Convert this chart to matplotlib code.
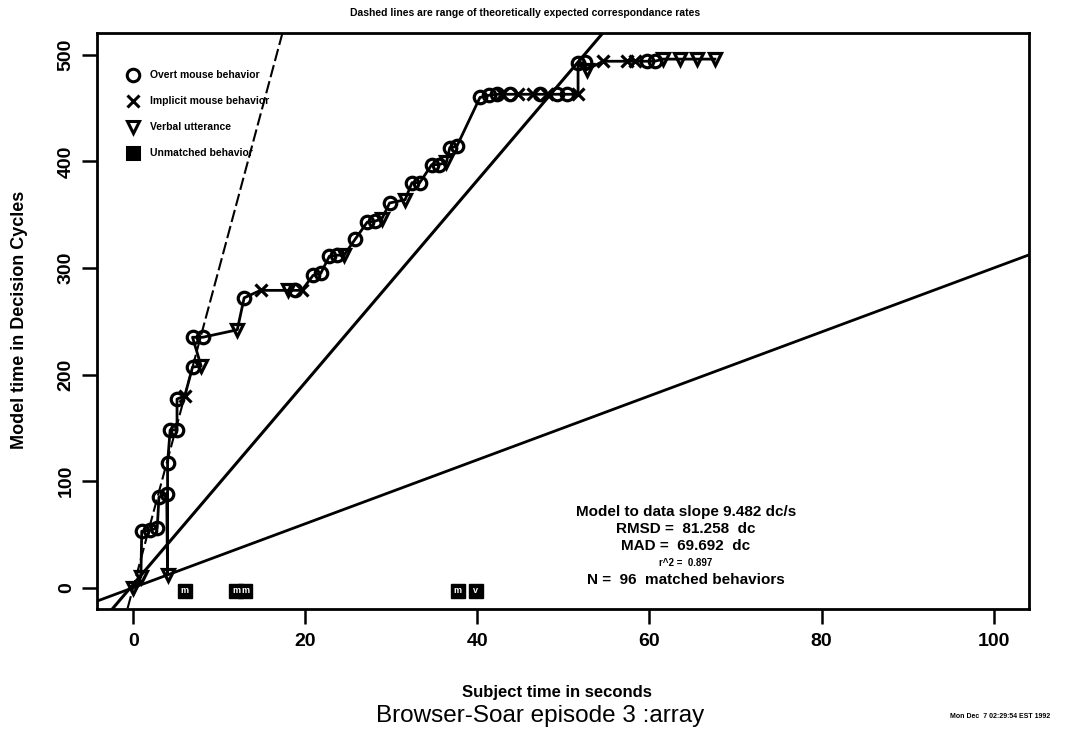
import numpy as np
import matplotlib
matplotlib.use("Agg")
import matplotlib.pyplot as plt

plt.rcParams['font.family'] = ['Liberation Sans', 'DejaVu Sans']

# -------------------------
# Data
# -------------------------
# matched behaviors in plotted order: subject time (s), model time (dc), kind
subj_time = [0.0, 0.9, 1.0, 2.0, 2.8, 3.0, 3.9, 4.0, 4.0, 4.3, 5.1, 5.1, 6.0,
             6.9, 7.9, 6.9, 8.1, 12.1, 12.9, 14.8, 18.0, 18.8, 19.6, 20.9,
             21.8, 22.8, 23.7, 24.5, 25.8, 27.2, 28.1, 28.9, 29.8, 31.6,
             32.4, 33.3, 34.7, 35.5, 36.4, 36.8, 37.6, 40.3, 41.3, 42.3,
             42.9, 43.8, 44.7, 46.5, 47.3, 48.1, 49.2, 50.4, 51.7, 51.7,
             52.5, 52.7, 54.6, 57.4, 58.3, 59.7, 60.6, 61.6, 63.5, 65.5, 67.6]
model_time = [0, 10, 53, 54, 56, 85, 88, 12, 117, 148, 148, 177, 180,
              207, 208, 235, 235, 242, 272, 279, 279, 279, 279, 293,
              295, 311, 312, 312, 327, 343, 344, 346, 361, 364,
              380, 380, 397, 397, 399, 413, 414, 460, 462, 463,
              463, 463, 463, 463, 463, 463, 463, 463, 463, 492,
              493, 486, 494, 494, 494, 494, 494, 496, 496, 496, 496]
kind = ['v', 'v', 'o', 'o', 'o', 'o', 'o', 'v', 'o', 'o', 'o', 'o', 'x',
        'o', 'v', 'o', 'o', 'v', 'o', 'x', 'v', 'o', 'x', 'o',
        'o', 'o', 'o', 'v', 'o', 'o', 'o', 'v', 'o', 'v',
        'o', 'o', 'o', 'o', 'v', 'o', 'o', 'o', 'o', 'o',
        'x', 'o', 'x', 'x', 'o', 'x', 'o', 'o', 'x', 'o',
        'o', 'v', 'x', 'x', 'x', 'o', 'o', 'v', 'v', 'v', 'v']

# unmatched behaviors
unmatched_x = [6.0, 12.0, 13.0, 37.7, 39.8]
unmatched_y = [-3, -3, -3, -3, -3]
unmatched_lbl = ['m', 'm', 'm', 'm', 'v']

fit_slope = 9.482
fit_icpt = 3.0
theory_lo = 3.0
theory_hi = 30.0

stats_lines = ["Model to data slope 9.482 dc/s",
               "RMSD =  81.258  dc",
               "MAD =  69.692  dc",
               "r^2 =  0.897",
               "N =  96  matched behaviors"]

# -------------------------
# Plot
# -------------------------
fig = plt.figure(figsize=(10.7, 7.36), dpi=100)
ax = fig.add_axes([97 / 1070, 1 - 609 / 736, 932 / 1070, 576 / 736])
ax.set_xlim(-4.2, 104.1)
ax.set_ylim(-20, 520.5)

xx = np.array([-10, 110])
ax.plot(xx, fit_slope * xx + fit_icpt, color='black', lw=2.2)
ax.plot(xx, theory_lo * xx, color='black', lw=2.0)
ax.plot(xx, theory_hi * xx, color='black', lw=1.5, ls=(0, (6, 2)))

ax.plot(subj_time, model_time, color='black', lw=2.0, zorder=3)

style = {'o': dict(marker='o', ms=9, mfc='none', mew=2.3),
         'x': dict(marker='x', ms=9, mew=2.3),
         'v': dict(marker='v', ms=9, mfc='none', mew=2.3)}
for k, st in style.items():
    px = [x for x, kk in zip(subj_time, kind) if kk == k]
    py = [y for y, kk in zip(model_time, kind) if kk == k]
    ax.plot(px, py, ls='none', color='black', zorder=4, **st)

ax.plot(unmatched_x, unmatched_y, ls='none', marker='s', ms=10,
        mfc='black', mec='black', zorder=4)
for x, y, t in zip(unmatched_x, unmatched_y, unmatched_lbl):
    ax.text(x, y, t, color='white', fontsize=6.5, fontweight='bold',
            ha='center', va='center', zorder=5)

# legend drawn R-style, no frame
leg_items = [('o', 'none', 'Overt mouse behavior'),
             ('x', 'black', 'Implicit mouse behavior'),
             ('v', 'none', 'Verbal utterance'),
             ('s', 'black', 'Unmatched behavior')]
for i, (m, fc, lbl) in enumerate(leg_items):
    ly = 0.927 - i * 0.045
    ax.plot([0.0386], [ly], transform=ax.transAxes, marker=m, ms=9,
            mfc=fc, mec='black', color='black', mew=2.2, ls='none')
    ax.text(0.057, ly, lbl, transform=ax.transAxes, fontsize=7.5,
            fontweight='bold', va='center', ha='left')

for i, s in enumerate(stats_lines):
    fs = 7 if s.startswith('r^2') else 11
    ax.text(64.2, 71 - i * 16, s, fontsize=fs, ha='center', va='center',
            fontweight='bold')

ax.set_xticks([0, 20, 40, 60, 80, 100])
ax.set_yticks([0, 100, 200, 300, 400, 500])
ax.tick_params(axis='both', length=11, width=1.8, labelsize=14)
ax.tick_params(axis='x', pad=6)
ax.tick_params(axis='y', pad=5)
for lab in ax.get_xticklabels() + ax.get_yticklabels():
    lab.set_fontweight('bold')
for lab in ax.get_yticklabels():
    lab.set_rotation(90)
    lab.set_va('center')
for sp in ax.spines.values():
    sp.set_linewidth(2.0)

fig.text(525 / 1070, 1 - 13 / 736,
         "Dashed lines are range of theoretically expected correspondance rates",
         fontsize=7.5, fontweight='bold', ha='center', va='center')
fig.text(557 / 1070, 1 - 693 / 736, "Subject time in seconds",
         fontsize=12, ha='center', va='center', fontweight='bold')
fig.text(540 / 1070, 1 - 716 / 736, "Browser-Soar episode 3 :array",
         fontsize=17.5, ha='center', va='center')
fig.text(1000 / 1070, 1 - 717 / 736, "Mon Dec  7 02:29:54 EST 1992",
         fontsize=5, ha='center', va='center', fontweight='bold')
fig.text(20 / 1070, 1 - 320 / 736, "Model time in Decision Cycles",
         fontsize=13, rotation=90, ha='center', va='center',
         fontweight='bold')

fig.savefig("out.png", dpi=100)
